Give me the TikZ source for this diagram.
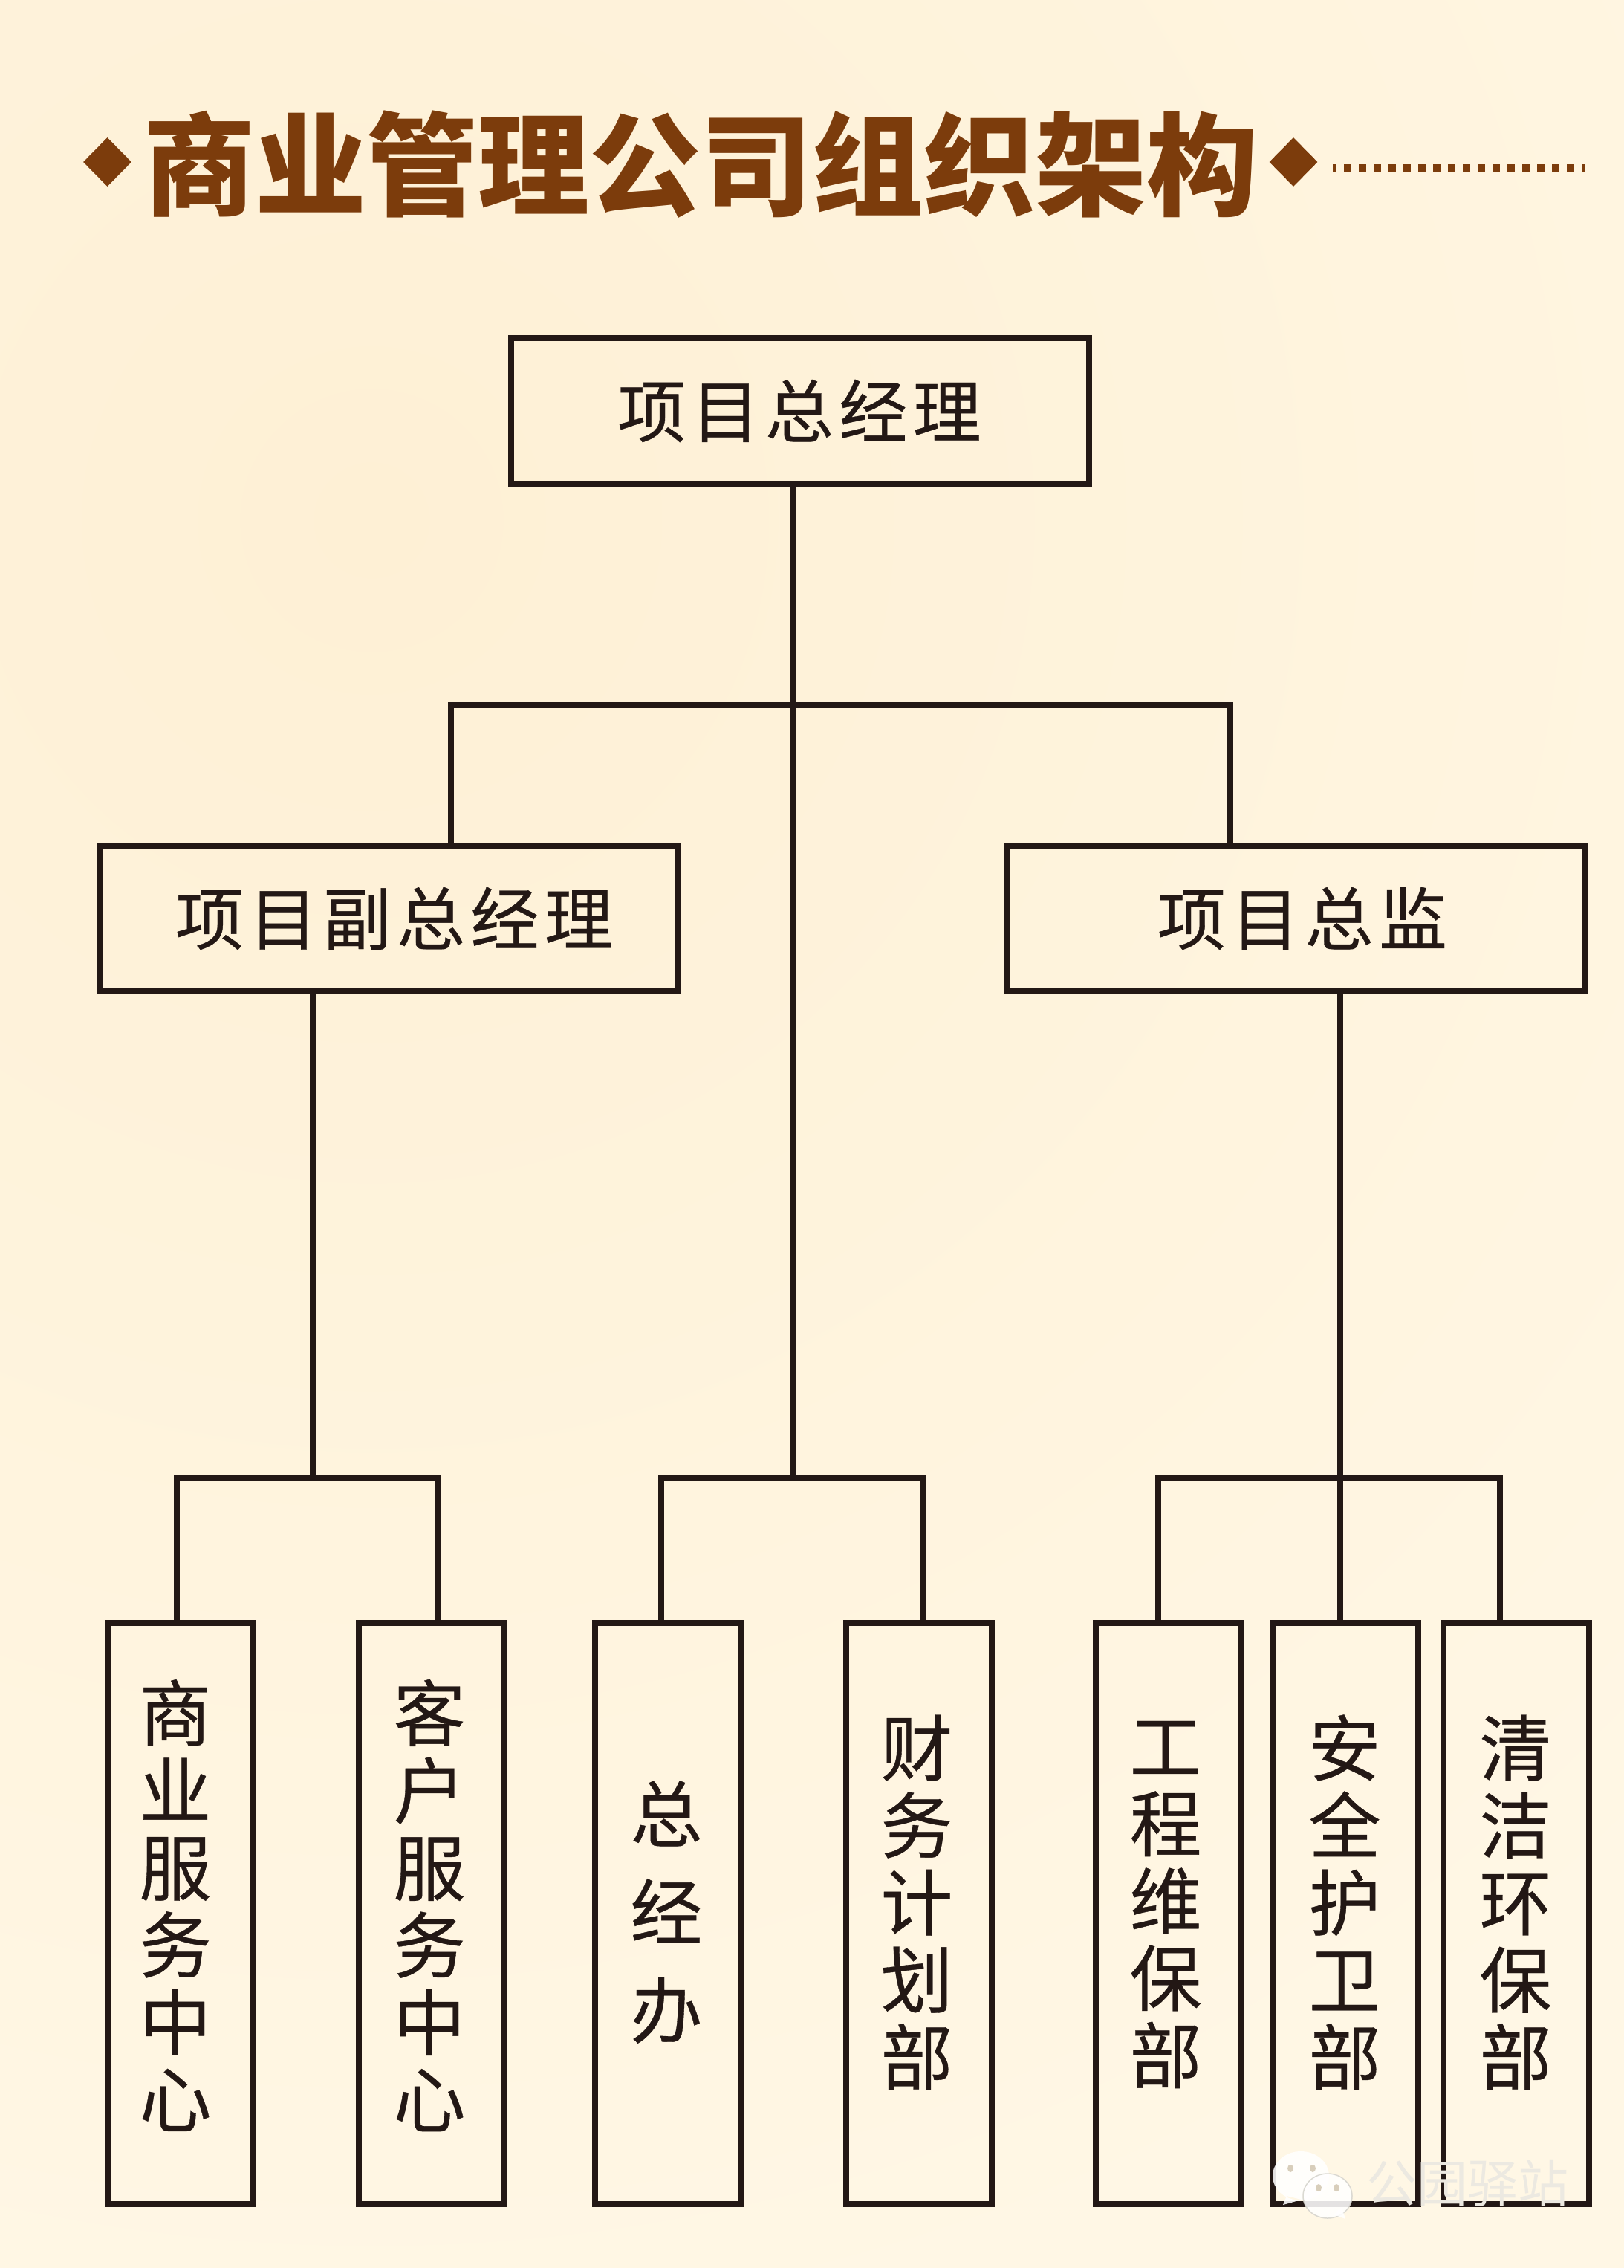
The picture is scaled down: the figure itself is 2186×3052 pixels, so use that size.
\documentclass[tikz,border=0pt]{standalone}
\usepackage{fontspec}
\usetikzlibrary{shapes.geometric}
\setmainfont{Noto Sans CJK SC}
\newfontfamily\rolefont[LetterSpace=8, FakeBold=0.4]{Noto Sans CJK SC}
\newfontfamily\deptfont[FakeBold=0.4]{Noto Sans CJK SC}
\definecolor{inkline}{HTML}{231815}
\definecolor{titlebrown}{HTML}{7C3C0C}
\definecolor{papertop}{HTML}{FEF0D5}
\definecolor{paperlow}{HTML}{FFF7E5}
\definecolor{markgrey}{HTML}{ECE9E1}
% dx and dy move the stacked letters inside the box
\newcommand{\vtext}[3]{\hspace*{#1pt}\parbox{104pt}{\centering #3\par\vspace*{#2pt}}}
\tikzset{
    rolebox/.style={draw=inkline, line width=7.5pt, text=inkline, inner sep=0pt,
        minimum width=778pt, minimum height=196pt, font=\fontsize{92}{100}\rolefont},
    deptbox/.style={draw=inkline, line width=7.5pt, text=inkline, inner sep=0pt,
        minimum width=196pt, minimum height=782pt, font=\fontsize{97}{104}\deptfont},
    link/.style={draw=inkline, line width=7.5pt},
    tipmark/.style={diamond, fill=titlebrown, inner sep=0pt, minimum width=65pt, minimum height=66pt},
    bubble/.style={fill=white, opacity=.88},
    bubbleeye/.style={fill=papertop!70!gray}
}
\begin{document}
\begin{tikzpicture}[x=1pt, y=-1pt]
    \useasboundingbox (0,0) rectangle (2186,3052);
    \begin{scope}
        \clip (0,0) rectangle (2186,3052);
        \shade[inner color=papertop, outer color=paperlow] (-2000,-1800) rectangle (3000,3200);
    \end{scope}
    % title row
    \node[tipmark] (tipL) at (144.5,218) {};
    \node[tipmark] (tipR) at (1741,218) {};
    \node[text=titlebrown, inner sep=0pt, font=\fontsize{150}{150}\selectfont\bfseries] (title) at (943,221) {商业管理公司组织架构};
    \coordinate (dotsA) at (1794,226);
    \coordinate (dotsB) at (2134,226);
    \draw[titlebrown, line width=10pt, dash pattern=on 10pt off 10pt, dash phase=5pt] (dotsA) -- (dotsB);
    % upper boxes
    \node[rolebox] (chief) at (1077,553) {\hspace*{-2pt}项目总经理};
    \node[rolebox] (vice) at (523.5,1236) {\hspace*{14pt}项目副总经理};
    \node[rolebox] (super) at (1744,1236) {\hspace*{18pt}项目总监};
    % lower boxes
    \node[deptbox] (biz) at (243,2575) {\vtext{-14}{22}{商\\业\\服\\务\\中\\心}};
    \node[deptbox] (cust) at (581,2575) {\vtext{-6}{22}{客\\户\\服\\务\\中\\心}};
    \node[deptbox] (admin) at (899,2575) {\vtext{-4}{4}{总\\[28pt]经\\[28pt]办}};
    \node[deptbox] (money) at (1237,2575) {\vtext{-6}{30}{财\\务\\计\\划\\部}};
    \node[deptbox] (works) at (1573,2575) {\vtext{-8}{24}{工\\程\\维\\保\\部}};
    \node[deptbox] (guard) at (1811,2575) {\vtext{-2}{30}{安\\全\\护\\卫\\部}};
    \node[deptbox] (clean) at (2041,2575) {\vtext{-2}{30}{清\\洁\\环\\保\\部}};
    % connectors
    \coordinate (hub) at (1068,949);
    \coordinate (hubL) at (607,949);
    \coordinate (hubR) at (1656,949);
    \coordinate (midB) at (1068,1989);
    \draw[link] (chief.south -| hub) -- (midB);
    \draw[link] (vice.north -| hubL) -- (hubL) -- (hubR) -- (super.north -| hubR);
    \coordinate (legA) at (238,1989);
    \coordinate (legB) at (590,1989);
    \draw[link] (biz.north -| legA) -- (legA) -- (legB) -- (cust.north -| legB);
    \coordinate (legC) at (890,1989);
    \coordinate (legD) at (1242,1989);
    \draw[link] (admin.north -| legC) -- (legC) -- (legD) -- (money.north -| legD);
    \coordinate (legE) at (1559,1989);
    \coordinate (legF) at (2019,1989);
    \draw[link] (works.north -| legE) -- (legE) -- (legF) -- (clean.north -| legF);
    \coordinate (dropV) at (421,1989);
    \draw[link] (vice.south -| dropV) -- (dropV);
    \coordinate (dropS) at (1804,1989);
    \draw[link] (super.south -| dropS) -- (guard.north -| dropS);
    % watermark
    \fill[bubble] (1751,2928) ellipse [x radius=38, y radius=33] (1732,2955) -- (1727,2967) -- (1752,2960) -- cycle;
    \fill[bubbleeye] (1737,2918) ellipse [x radius=4, y radius=5] (1767,2918) ellipse [x radius=4, y radius=5];
    \draw[bubble, draw=markgrey!80!gray, line width=1.5pt] (1787,2955) ellipse [x radius=33, y radius=30];
    \fill[bubble] (1795,2980) -- (1811,2986) -- (1806,2970) -- cycle;
    \fill[bubbleeye] (1775,2944) ellipse [x radius=4, y radius=5] (1799,2944) ellipse [x radius=4, y radius=5];
    \node[text=markgrey, inner sep=0pt, font=\fontsize{68}{68}\selectfont] (wmark) at (1975,2938) {公园驿站};
\end{tikzpicture}
\end{document}
